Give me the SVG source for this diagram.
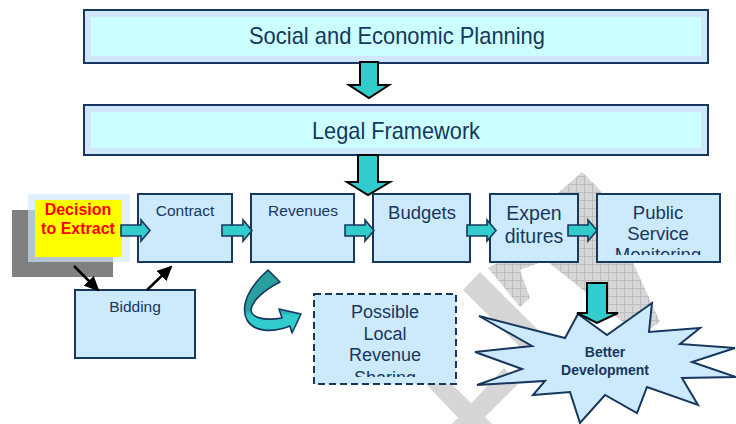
<svg xmlns="http://www.w3.org/2000/svg" width="736" height="424" viewBox="0 0 736 424">
<style>
.box{fill:#cdeafc;stroke:#17375e;stroke-width:2}
.top{fill:#cfe6fb;stroke:#17375e;stroke-width:2}
.inner{fill:#ccffff}
.t{font-family:"Liberation Sans",Arial,sans-serif;fill:#17375e;text-anchor:middle}
.tn{font-family:"Liberation Sans Narrow","Liberation Sans",Arial,sans-serif;fill:#17375e;text-anchor:middle;font-size:24px}
.sa{fill:#33cccc;stroke:#17375e;stroke-width:1.6;stroke-linejoin:miter}
.ba{fill:#33cccc;stroke:#000;stroke-width:2}
.wm{fill:#d6d6d6}
.wc{fill:url(#chk)}
.ln{stroke:#000;stroke-width:2.5;fill:none;marker-end:url(#ah)}
</style>
<defs>
<pattern id="chk" width="8" height="8" patternUnits="userSpaceOnUse">
<rect width="8" height="8" fill="#d6d6d6"/>
<path d="M0,0.5H8M0.5,0V8" stroke="#bdbdbd" stroke-width="1"/>
</pattern>
<marker id="ah" markerWidth="15" markerHeight="14" refX="13" refY="7" orient="auto" markerUnits="userSpaceOnUse">
<path d="M0,0 L15,7 L0,14 Z" fill="#000"/>
</marker>
<linearGradient id="cg" x1="0" y1="270" x2="0" y2="334" gradientUnits="userSpaceOnUse">
<stop offset="0" stop-color="#2a9f9f"/>
<stop offset="0.62" stop-color="#2a9f9f"/>
<stop offset="0.72" stop-color="#33cccc"/>
<stop offset="1" stop-color="#33cccc"/>
</linearGradient>
<clipPath id="cpPub"><rect x="597" y="194" width="123" height="61"/></clipPath>
<clipPath id="cpShare"><rect x="314" y="294" width="142" height="83"/></clipPath>
</defs>

<g id="watermark">
<polygon class="wc" points="582,172 600,190 660,322 640,336 548,262 550,200"/>
<polygon class="wc" points="540,240 560,255 520,270 530,298 520,307 488,268"/>
<polygon class="wm" points="463,290 480,272 560,352 543,370"/>
<polygon class="wm" points="426,384 452,384 492,424 464,424"/>
<polygon class="wm" points="452,424 478,424 518,384 504,368"/>
</g>

<g id="social-planning">
<rect class="top" x="84" y="10" width="624" height="53"/>
<rect class="inner" x="91" y="17" width="610" height="39"/>
<text class="tn" x="397" y="44" textLength="296" lengthAdjust="spacingAndGlyphs">Social and Economic Planning</text>
</g>

<g id="legal-framework">
<rect class="top" x="84" y="105" width="624" height="50"/>
<rect class="inner" x="91" y="112" width="610" height="36"/>
<text class="tn" x="396" y="139" textLength="168" lengthAdjust="spacingAndGlyphs">Legal Framework</text>
</g>

<g id="decision">
<rect x="12" y="210" width="101" height="67" fill="#808080"/>
<rect x="28" y="194" width="102" height="68" fill="#cfe9fb" opacity="0.65"/>
<rect x="35" y="200" width="87" height="57" fill="#ffff00"/>
<text class="t" x="78" y="215" style="fill:#ff0000;font-weight:bold;font-size:16px">Decision</text>
<text class="t" x="78" y="234" style="fill:#ff0000;font-weight:bold;font-size:16px">to Extract</text>
</g>

<g id="contract">
<rect class="box" x="138" y="194" width="94" height="68"/>
<text class="t" x="185" y="216" font-size="15.5">Contract</text>
</g>

<g id="revenues">
<rect class="box" x="251" y="194" width="103" height="68"/>
<text class="t" x="303" y="216" font-size="15.5">Revenues</text>
</g>

<g id="budgets">
<rect class="box" x="373" y="194" width="97" height="68"/>
<text class="t" x="422" y="219" font-size="18.5">Budgets</text>
</g>

<g id="expenditures">
<rect class="box" x="490" y="194" width="88" height="68"/>
<text class="t" x="534" y="220" font-size="19.5">Expen</text>
<text class="t" x="534" y="243" font-size="19.5">ditures</text>
</g>

<g id="public-service">
<rect class="box" x="597" y="194" width="123" height="68"/>
<g clip-path="url(#cpPub)">
<text class="t" x="658" y="219" font-size="18.5">Public</text>
<text class="t" x="658" y="240" font-size="18.5">Service</text>
<text class="t" x="658" y="261" font-size="18.5">Monitoring</text>
</g>
</g>

<g id="bidding">
<rect class="box" x="75" y="290" width="120" height="68"/>
<text class="t" x="135" y="312" font-size="15.5">Bidding</text>
</g>

<g id="local-revenue-sharing">
<rect class="box" x="314" y="294" width="142" height="90" stroke-dasharray="7,4"/>
<g clip-path="url(#cpShare)">
<text class="t" x="385" y="318" font-size="18">Possible</text>
<text class="t" x="385" y="340" font-size="18">Local</text>
<text class="t" x="385" y="361" font-size="18">Revenue</text>
<text class="t" x="385" y="384" font-size="18">Sharing</text>
</g>
</g>

<g id="better-development">
<polygon class="box" points="479,316 565,338 578,314 607,335 652,303 649,332 700,328 680,344 735,348 692,362 736,377 682,378 698,405 647,387 637,413 605,395 580,423 570,392 533,395 545,381 477,385 522,369 475,352 532,346"/>
<text class="t" x="605" y="357" style="font-weight:bold;font-size:14px">Better</text>
<text class="t" x="605" y="375" style="font-weight:bold;font-size:14px">Development</text>
</g>

<g id="connectors">
<path class="ba" d="M360,62 V85 H349 L369,98 L389,85 H378 V62 Z"/>
<path class="ba" d="M358,155 V182 H347 L368,195 L390,182 H378 V155 Z"/>
<path class="ba" d="M587,283 V313 H577 L597,323 L618,313 H607 V283 Z"/>
<path class="sa" d="M121,225 H141 V220 L150,230.5 L141,241 V236 H121 Z"/>
<path class="sa" d="M222,225 H243 V220 L252,230.5 L243,241 V236 H222 Z"/>
<path class="sa" d="M345,225 H365 V220 L374,230.5 L365,241 V236 H345 Z"/>
<path class="sa" d="M467,225 H487 V220 L496,230.5 L487,241 V236 H467 Z"/>
<path class="sa" d="M568,225 H588 V220 L597,230.5 L588,241 V236 H568 Z"/>
<line class="ln" x1="74" y1="266" x2="98" y2="290"/>
<line class="ln" x1="147" y1="290" x2="171" y2="267"/>
<path d="M268,270 L280,282 C266,289 252,300 251,310 C252,318 264,321 282,318 L279,309 L301,314 L292,333 L290,326 C272,333 254,332 247,320 C240,306 248,288 268,270 Z" fill="url(#cg)" stroke="#17375e" stroke-width="1.6" stroke-linejoin="round"/>
</g>
</svg>
